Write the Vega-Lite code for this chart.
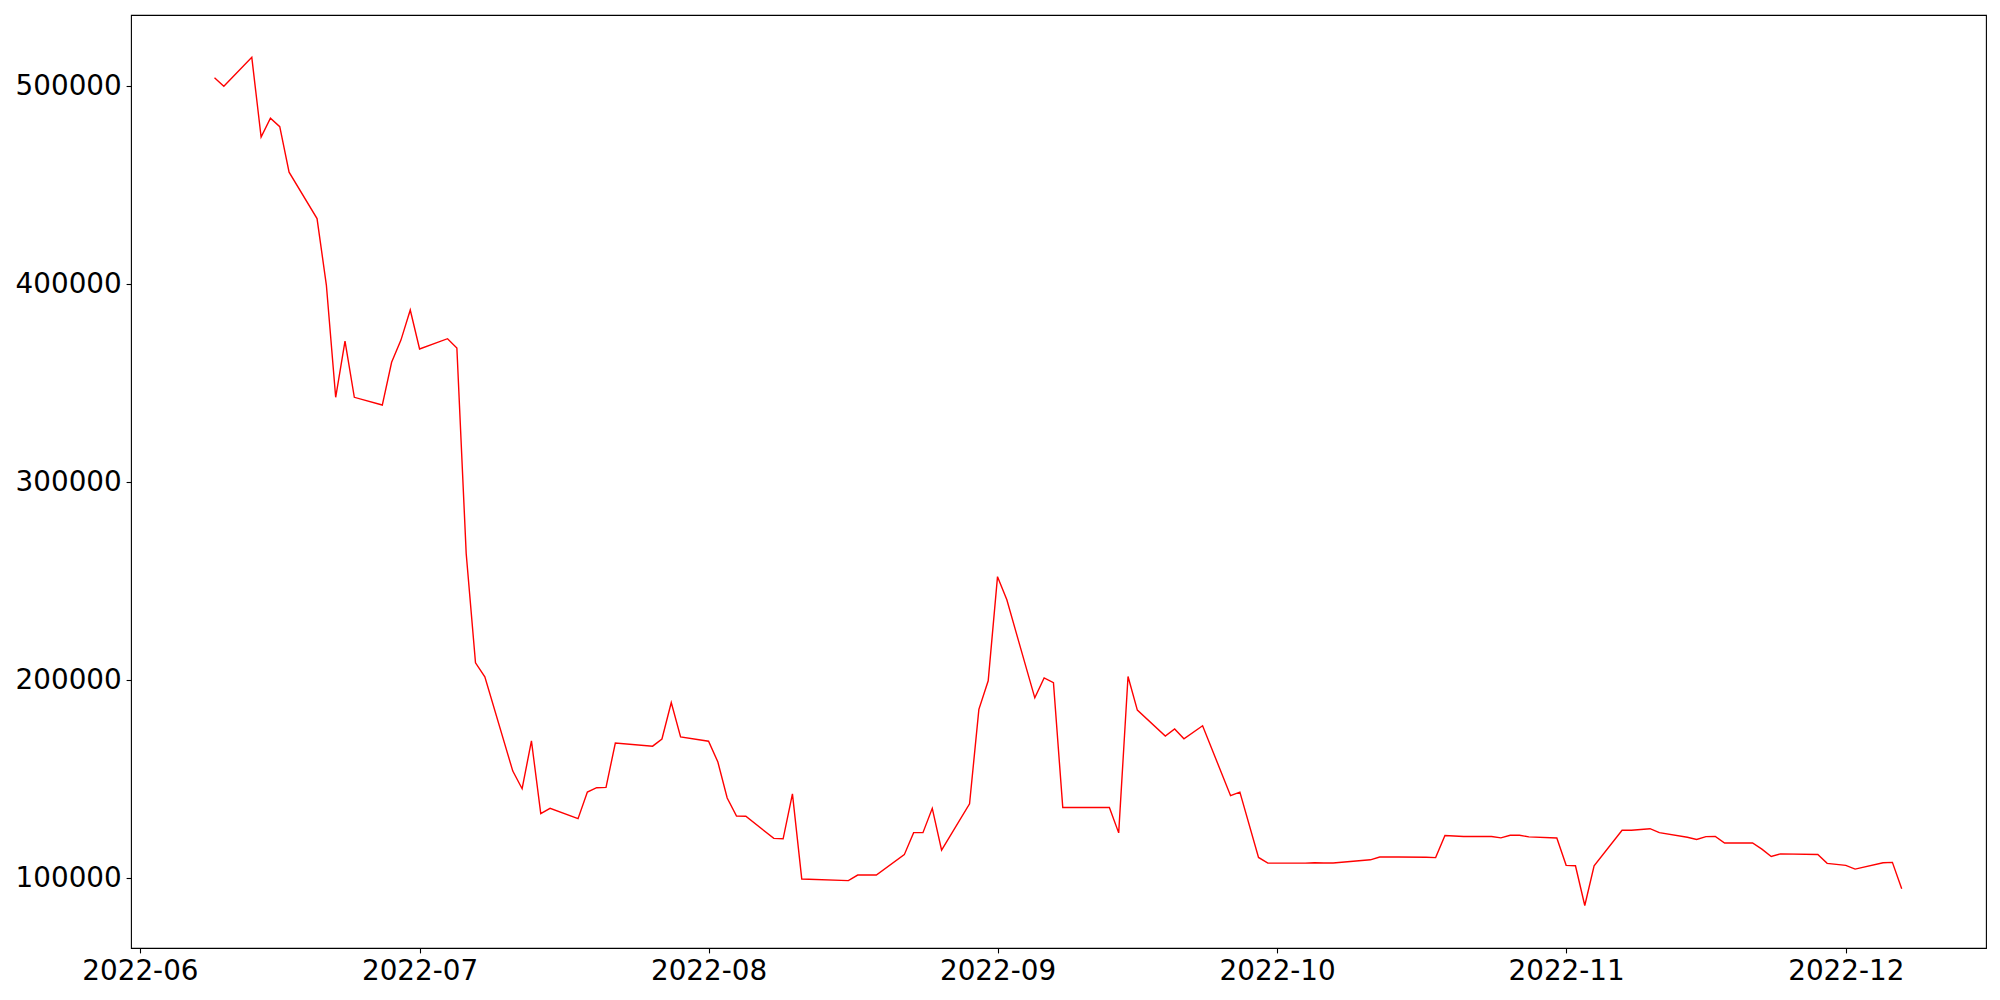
{
  "$schema": "https://vega.github.io/schema/vega-lite/v6.json",
  "autosize": {"type": "none"},
  "padding": {"left": 131, "top": 15, "right": 14, "bottom": 52},
  "width": 1855,
  "height": 933,
  "background": "white",
  "config": {
    "view": {"stroke": "black", "strokeWidth": 1.1},
    "axis": {
      "domain": false,
      "grid": false,
      "title": null,
      "labelFont": "DejaVu Sans",
      "labelFontSize": 27.8,
      "labelColor": "black",
      "tickColor": "black",
      "tickSize": 4.9,
      "tickWidth": 1.1,
      "labelPadding": 4.9,
      "labelOverlap": false,
      "labelFlush": false
    }
  },
  "data": {
    "values": [
      {"date": "2022-06-09T00:00:00", "value": 504300},
      {"date": "2022-06-10T00:00:00", "value": 500000},
      {"date": "2022-06-13T00:00:00", "value": 514600},
      {"date": "2022-06-14T00:00:00", "value": 474300},
      {"date": "2022-06-15T00:00:00", "value": 483900},
      {"date": "2022-06-16T00:00:00", "value": 479600},
      {"date": "2022-06-17T00:00:00", "value": 456600},
      {"date": "2022-06-20T00:00:00", "value": 433200},
      {"date": "2022-06-21T00:00:00", "value": 399600},
      {"date": "2022-06-22T00:00:00", "value": 342900},
      {"date": "2022-06-23T00:00:00", "value": 371300},
      {"date": "2022-06-24T00:00:00", "value": 342900},
      {"date": "2022-06-27T00:00:00", "value": 339000},
      {"date": "2022-06-28T00:00:00", "value": 360600},
      {"date": "2022-06-29T00:00:00", "value": 371800},
      {"date": "2022-06-30T00:00:00", "value": 387000},
      {"date": "2022-07-01T00:00:00", "value": 367300},
      {"date": "2022-07-04T00:00:00", "value": 372500},
      {"date": "2022-07-05T00:00:00", "value": 367800},
      {"date": "2022-07-06T00:00:00", "value": 264000},
      {"date": "2022-07-07T00:00:00", "value": 208800},
      {"date": "2022-07-08T00:00:00", "value": 201700},
      {"date": "2022-07-11T00:00:00", "value": 154100},
      {"date": "2022-07-12T00:00:00", "value": 145200},
      {"date": "2022-07-13T00:00:00", "value": 169400},
      {"date": "2022-07-14T00:00:00", "value": 132600},
      {"date": "2022-07-15T00:00:00", "value": 135300},
      {"date": "2022-07-18T00:00:00", "value": 130100},
      {"date": "2022-07-19T00:00:00", "value": 143500},
      {"date": "2022-07-20T00:00:00", "value": 145700},
      {"date": "2022-07-21T00:00:00", "value": 145900},
      {"date": "2022-07-22T00:00:00", "value": 168300},
      {"date": "2022-07-26T00:00:00", "value": 166700},
      {"date": "2022-07-27T00:00:00", "value": 170300},
      {"date": "2022-07-28T00:00:00", "value": 188700},
      {"date": "2022-07-29T00:00:00", "value": 171400},
      {"date": "2022-08-01T00:00:00", "value": 169200},
      {"date": "2022-08-02T00:00:00", "value": 158700},
      {"date": "2022-08-03T00:00:00", "value": 140500},
      {"date": "2022-08-04T00:00:00", "value": 131400},
      {"date": "2022-08-05T00:00:00", "value": 131300},
      {"date": "2022-08-08T00:00:00", "value": 120100},
      {"date": "2022-08-09T00:00:00", "value": 119900},
      {"date": "2022-08-10T00:00:00", "value": 142600},
      {"date": "2022-08-11T00:00:00", "value": 99600},
      {"date": "2022-08-16T00:00:00", "value": 98800},
      {"date": "2022-08-17T00:00:00", "value": 101600},
      {"date": "2022-08-18T00:00:00", "value": 101600},
      {"date": "2022-08-19T00:00:00", "value": 101600},
      {"date": "2022-08-22T00:00:00", "value": 111900},
      {"date": "2022-08-23T00:00:00", "value": 123000},
      {"date": "2022-08-24T00:00:00", "value": 123000},
      {"date": "2022-08-25T00:00:00", "value": 135300},
      {"date": "2022-08-26T00:00:00", "value": 114200},
      {"date": "2022-08-29T00:00:00", "value": 137600},
      {"date": "2022-08-30T00:00:00", "value": 185300},
      {"date": "2022-08-31T00:00:00", "value": 199700},
      {"date": "2022-09-01T00:00:00", "value": 252300},
      {"date": "2022-09-02T00:00:00", "value": 240600},
      {"date": "2022-09-05T00:00:00", "value": 191100},
      {"date": "2022-09-06T00:00:00", "value": 201200},
      {"date": "2022-09-07T00:00:00", "value": 198800},
      {"date": "2022-09-08T00:00:00", "value": 135700},
      {"date": "2022-09-09T00:00:00", "value": 135700},
      {"date": "2022-09-12T00:00:00", "value": 135700},
      {"date": "2022-09-13T00:00:00", "value": 135700},
      {"date": "2022-09-14T00:00:00", "value": 122900},
      {"date": "2022-09-15T00:00:00", "value": 201900},
      {"date": "2022-09-16T00:00:00", "value": 184900},
      {"date": "2022-09-19T00:00:00", "value": 171800},
      {"date": "2022-09-20T00:00:00", "value": 175400},
      {"date": "2022-09-21T00:00:00", "value": 170400},
      {"date": "2022-09-23T00:00:00", "value": 177000},
      {"date": "2022-09-26T00:00:00", "value": 141700},
      {"date": "2022-09-27T00:00:00", "value": 143500},
      {"date": "2022-09-29T00:00:00", "value": 110500},
      {"date": "2022-09-30T00:00:00", "value": 107600},
      {"date": "2022-10-03T00:00:00", "value": 107600},
      {"date": "2022-10-04T00:00:00", "value": 107600},
      {"date": "2022-10-05T00:00:00", "value": 107800},
      {"date": "2022-10-06T00:00:00", "value": 107700},
      {"date": "2022-10-07T00:00:00", "value": 107700},
      {"date": "2022-10-11T00:00:00", "value": 109300},
      {"date": "2022-10-12T00:00:00", "value": 110700},
      {"date": "2022-10-13T00:00:00", "value": 110800},
      {"date": "2022-10-14T00:00:00", "value": 110700},
      {"date": "2022-10-17T00:00:00", "value": 110600},
      {"date": "2022-10-18T00:00:00", "value": 110400},
      {"date": "2022-10-19T00:00:00", "value": 121600},
      {"date": "2022-10-21T00:00:00", "value": 121100},
      {"date": "2022-10-24T00:00:00", "value": 121100},
      {"date": "2022-10-25T00:00:00", "value": 120400},
      {"date": "2022-10-26T00:00:00", "value": 121700},
      {"date": "2022-10-27T00:00:00", "value": 121700},
      {"date": "2022-10-28T00:00:00", "value": 120900},
      {"date": "2022-10-31T00:00:00", "value": 120300},
      {"date": "2022-11-01T00:00:00", "value": 106500},
      {"date": "2022-11-02T00:00:00", "value": 106300},
      {"date": "2022-11-03T00:00:00", "value": 86200},
      {"date": "2022-11-04T00:00:00", "value": 106300},
      {"date": "2022-11-07T00:00:00", "value": 124200},
      {"date": "2022-11-08T00:00:00", "value": 124200},
      {"date": "2022-11-10T00:00:00", "value": 125000},
      {"date": "2022-11-11T00:00:00", "value": 123000},
      {"date": "2022-11-14T00:00:00", "value": 120700},
      {"date": "2022-11-15T00:00:00", "value": 119600},
      {"date": "2022-11-16T00:00:00", "value": 121000},
      {"date": "2022-11-17T00:00:00", "value": 121100},
      {"date": "2022-11-18T00:00:00", "value": 117800},
      {"date": "2022-11-21T00:00:00", "value": 117800},
      {"date": "2022-11-22T00:00:00", "value": 114700},
      {"date": "2022-11-23T00:00:00", "value": 111000},
      {"date": "2022-11-24T00:00:00", "value": 112300},
      {"date": "2022-11-28T00:00:00", "value": 112000},
      {"date": "2022-11-29T00:00:00", "value": 107500},
      {"date": "2022-12-01T00:00:00", "value": 106500},
      {"date": "2022-12-02T00:00:00", "value": 104600},
      {"date": "2022-12-05T00:00:00", "value": 107800},
      {"date": "2022-12-06T00:00:00", "value": 108000},
      {"date": "2022-12-07T00:00:00", "value": 94700}
    ]
  },
  "mark": {"type": "line", "color": "#ff0000", "strokeWidth": 1.4},
  "encoding": {
    "x": {
      "field": "date",
      "type": "temporal",
      "scale": {
        "domain": [
          {"year": 2022, "month": "may", "date": 31, "hours": 1, "minutes": 0},
          {"year": 2022, "month": "dec", "date": 16, "hours": 1, "minutes": 0}
        ]
      },
      "axis": {
        "format": "%Y-%m",
        "values": [
          {"year": 2022, "month": "jun", "date": 1},
          {"year": 2022, "month": "jul", "date": 1},
          {"year": 2022, "month": "aug", "date": 1},
          {"year": 2022, "month": "sep", "date": 1},
          {"year": 2022, "month": "oct", "date": 1},
          {"year": 2022, "month": "nov", "date": 1},
          {"year": 2022, "month": "dec", "date": 1}
        ]
      }
    },
    "y": {
      "field": "value",
      "type": "quantitative",
      "scale": {"domain": [64750, 536000], "zero": false, "nice": false},
      "axis": {"format": "d", "values": [100000, 200000, 300000, 400000, 500000]}
    }
  }
}
